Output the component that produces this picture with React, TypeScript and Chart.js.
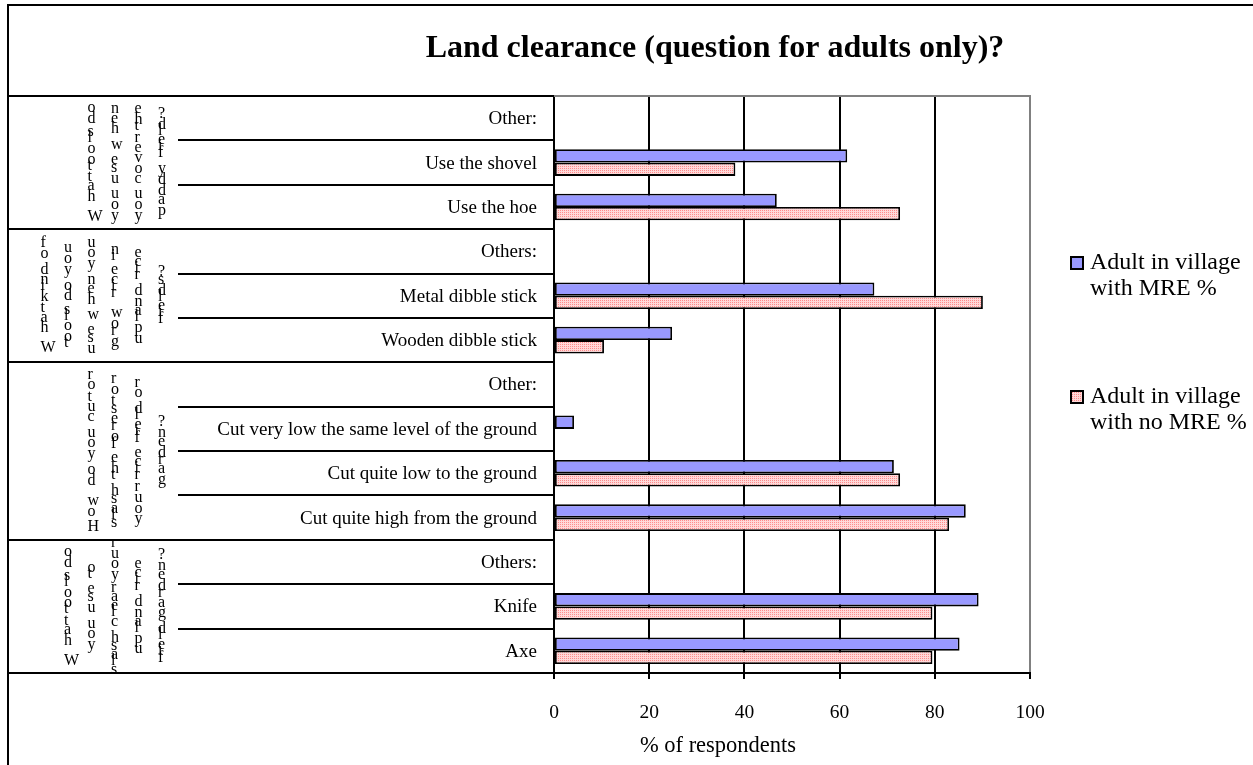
import React, { useEffect, useRef } from "react";
import { Chart, registerables } from "chart.js";

Chart.register(...registerables);

// ---- data ----
const categories = [
  "Other:",
  "Use the shovel",
  "Use the hoe",
  "Others:",
  "Metal dibble stick",
  "Wooden dibble stick",
  "Other:",
  "Cut very low the same level of the ground",
  "Cut quite low to the ground",
  "Cut quite high from the ground",
  "Others:",
  "Knife",
  "Axe",
];

const adultWithMRE: (number | null)[] = [null, 61.6, 46.8, null, 67.3, 24.8, null, 4.2, 71.4, 86.5, null, 89.2, 85.2];
const adultNoMRE: (number | null)[] = [null, 38.1, 72.7, null, 90.1, 10.5, null, null, 72.7, 83.0, null, 79.5, 79.5];

const xTickValues = [0, 20, 40, 60, 80, 100];

// how many answer rows belong to each question (top to bottom)
const questionGroupSizes = [3, 3, 4, 3];

// question texts, one entry per wrapped line
const questionLines = [
  ["What tools do", "you use when", "you cover the", "paddy field?"],
  ["What kind of", "tools do you", "use when you", "grow rice in", "upland rice", "fields?"],
  ["How do you cut or", "slash the forest or", "your rice field or", "garden?"],
  ["What tools do", "you use to", "slash clear your", "upland rice", "field garden?"],
];

const seriesLegendLines = [
  ["Adult in village", "with MRE %"],
  ["Adult in village", "with no MRE %"],
];

const chartTitle = "Land clearance (question for adults only)?";
const axisTitle = "% of respondents";

// ---- styling ----
const SERIF = "'Liberation Serif', 'Times New Roman', serif";
const BLUE = "#9999FF";

function makeDotPattern(): CanvasPattern | string {
  const c = document.createElement("canvas");
  c.width = 2;
  c.height = 2;
  const g = c.getContext("2d");
  if (!g) return "#FFC6C6";
  g.fillStyle = "#FFD9D9";
  g.fillRect(0, 0, 2, 2);
  g.fillStyle = "#FF8C8C";
  g.fillRect(0, 0, 1, 1);
  const p = g.createPattern(c, "repeat");
  return p || "#FFC6C6";
}

// draws a line of text as upright glyphs stacked bottom-to-top
function drawStackedColumn(ctx: CanvasRenderingContext2D, text: string, x: number, centerY: number) {
  const chars = Array.from(text);
  const advs = chars.map((ch) => ctx.measureText(ch).width * 1.33);
  const total = advs.reduce((a, b) => a + b, 0);
  const extent = total - advs[advs.length - 1] + 8;
  let y = centerY + extent / 2;
  chars.forEach((ch, i) => {
    ctx.fillText(ch, x, y);
    y -= advs[i];
  });
}

const decorPlugin = {
  id: "decor",
  afterDraw(chart: any) {
    const ctx: CanvasRenderingContext2D = chart.ctx;
    const area = chart.chartArea;
    const yScale = chart.scales.y;
    const n = categories.length;
    const step = (area.bottom - area.top) / n;
    const boundary = (i: number) => yScale.getPixelForValue(i) - step / 2;

    ctx.save();

    // outer frame
    ctx.strokeStyle = "#000";
    ctx.lineWidth = 2;
    ctx.strokeRect(8, 5, 1400, 900);

    // plot area top border
    ctx.strokeStyle = "#808080";
    ctx.beginPath();
    ctx.moveTo(area.left, area.top);
    ctx.lineTo(area.right + 1, area.top);
    ctx.stroke();

    // category table lines
    const groupEdges = new Set<number>([0]);
    let acc = 0;
    questionGroupSizes.forEach((s) => {
      acc += s;
      groupEdges.add(acc);
    });
    ctx.strokeStyle = "#000";
    ctx.lineWidth = 2;
    for (let i = 0; i <= n; i++) {
      const y = Math.round(boundary(i));
      const x0 = groupEdges.has(i) ? 8 : 178;
      ctx.beginPath();
      ctx.moveTo(x0, y);
      ctx.lineTo(area.left, y);
      ctx.stroke();
    }

    // category labels
    ctx.fillStyle = "#000";
    ctx.font = `19px ${SERIF}`;
    ctx.textAlign = "right";
    ctx.textBaseline = "middle";
    categories.forEach((c, i) => {
      ctx.fillText(c, 537, yScale.getPixelForValue(i) + 1);
    });

    // question texts
    ctx.font = `16px ${SERIF}`;
    ctx.textAlign = "left";
    ctx.textBaseline = "alphabetic";
    let start = 0;
    questionGroupSizes.forEach((s, g) => {
      const top = boundary(start);
      const bottom = boundary(start + s);
      const cy = (top + bottom) / 2;
      const lines = questionLines[g];
      lines.forEach((line, i) => {
        const x = 158 - 23.5 * (lines.length - 1 - i);
        drawStackedColumn(ctx, line, x, cy);
      });
      start += s;
    });

    // title
    ctx.font = `bold 32px ${SERIF}`;
    ctx.textAlign = "center";
    ctx.textBaseline = "middle";
    ctx.fillText(chartTitle, 715, 49);

    // axis title
    ctx.font = `22.5px ${SERIF}`;
    ctx.fillText(axisTitle, 718, 746);

    // legend
    const fills = [BLUE, chart.data.datasets[1].backgroundColor];
    const legendY = [263, 397];
    ctx.font = `24px ${SERIF}`;
    ctx.textAlign = "left";
    seriesLegendLines.forEach((lines, i) => {
      const y = legendY[i];
      ctx.fillStyle = fills[i];
      ctx.fillRect(1071, y - 6, 12, 12);
      ctx.strokeStyle = "#000";
      ctx.lineWidth = 2;
      ctx.strokeRect(1071, y - 6, 12, 12);
      ctx.fillStyle = "#000";
      lines.forEach((t, j) => ctx.fillText(t, 1090, y + j * 26));
    });

    ctx.restore();
  },
};

export default function App() {
  const canvasRef = useRef<HTMLCanvasElement | null>(null);

  useEffect(() => {
    const canvas = canvasRef.current;
    if (!canvas) return;
    const pink = makeDotPattern();
    const chart = new Chart(canvas, {
      type: "bar",
      data: {
        labels: categories,
        datasets: [
          {
            label: "Adult in village with MRE %",
            data: adultWithMRE,
            backgroundColor: BLUE,
            borderColor: "#000",
            borderWidth: 1.8,
            borderSkipped: false,
          },
          {
            label: "Adult in village with no MRE %",
            data: adultNoMRE,
            backgroundColor: pink as any,
            borderColor: "#000",
            borderWidth: 1.8,
            borderSkipped: false,
          },
        ],
      },
      options: {
        indexAxis: "y",
        responsive: false,
        animation: false,
        events: [],
        categoryPercentage: 0.6,
        barPercentage: 1,
        layout: { padding: { left: 554, right: 223, top: 96, bottom: 0 } },
        plugins: {
          legend: { display: false },
          title: { display: false },
          tooltip: { enabled: false },
        },
        scales: {
          x: {
            min: 0,
            max: 100,
            afterBuildTicks: (s: any) => {
              s.ticks = xTickValues.map((v) => ({ value: v }));
            },
            afterFit: (s: any) => {
              s.height = 92;
            },
            ticks: {
              color: "#000",
              font: { family: SERIF, size: 19.5 },
              padding: 22,
              maxRotation: 0,
            },
            grid: {
              color: (c: any) => (c.tick && c.tick.value === 100 ? "#808080" : "#000"),
              tickColor: "#000",
              lineWidth: 2,
              tickLength: 6,
            },
            border: { color: "#000", width: 2 },
          },
          y: {
            afterFit: (s: any) => {
              s.width = 0;
            },
            ticks: { display: false },
            grid: { display: false },
            border: { color: "#000", width: 2 },
          },
        },
      },
      plugins: [decorPlugin],
    });
    return () => chart.destroy();
  }, []);

  return (
    <div style={{ position: "absolute", left: 0, top: 0, width: 1253, height: 765, background: "#fff" }}>
      <canvas ref={canvasRef} width={1253} height={765} style={{ display: "block" }} />
    </div>
  );
}
